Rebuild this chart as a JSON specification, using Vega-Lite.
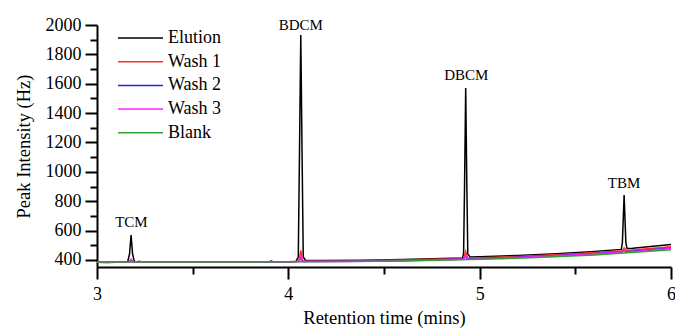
{
  "$schema": "https://vega.github.io/schema/vega-lite/v6.json",
  "width": 574,
  "height": 242,
  "autosize": "none",
  "padding": {"left": 97, "top": 25, "right": 4, "bottom": 61},
  "background": "white",
  "config": {
    "view": {"stroke": null},
    "font": "Liberation Serif",
    "axis": {"labelColor": "black", "titleColor": "black", "domainColor": "black", "tickColor": "black", "grid": false, "titleFontWeight": "normal"}
  },
  "datasets": {
    "curves": [
      {"t": 3.00, "v": 385, "s": "Elution"},
      {"t": 3.05, "v": 383, "s": "Elution"},
      {"t": 3.10, "v": 384, "s": "Elution"},
      {"t": 3.16, "v": 386, "s": "Elution"},
      {"t": 3.170, "v": 440, "s": "Elution"},
      {"t": 3.178, "v": 570, "s": "Elution"},
      {"t": 3.186, "v": 440, "s": "Elution"},
      {"t": 3.196, "v": 387, "s": "Elution"},
      {"t": 3.21, "v": 386, "s": "Elution"},
      {"t": 3.22, "v": 391, "s": "Elution"},
      {"t": 3.23, "v": 386, "s": "Elution"},
      {"t": 3.40, "v": 385, "s": "Elution"},
      {"t": 3.60, "v": 386, "s": "Elution"},
      {"t": 3.80, "v": 387, "s": "Elution"},
      {"t": 3.90, "v": 388, "s": "Elution"},
      {"t": 3.91, "v": 392, "s": "Elution"},
      {"t": 3.92, "v": 388, "s": "Elution"},
      {"t": 4.04, "v": 390, "s": "Elution"},
      {"t": 4.052, "v": 420, "s": "Elution"},
      {"t": 4.058, "v": 1100, "s": "Elution"},
      {"t": 4.065, "v": 1932, "s": "Elution"},
      {"t": 4.072, "v": 1100, "s": "Elution"},
      {"t": 4.078, "v": 420, "s": "Elution"},
      {"t": 4.09, "v": 398, "s": "Elution"},
      {"t": 4.20, "v": 396, "s": "Elution"},
      {"t": 4.40, "v": 398, "s": "Elution"},
      {"t": 4.60, "v": 403, "s": "Elution"},
      {"t": 4.80, "v": 410, "s": "Elution"},
      {"t": 4.91, "v": 414, "s": "Elution"},
      {"t": 4.916, "v": 440, "s": "Elution"},
      {"t": 4.921, "v": 900, "s": "Elution"},
      {"t": 4.927, "v": 1571, "s": "Elution"},
      {"t": 4.933, "v": 900, "s": "Elution"},
      {"t": 4.938, "v": 440, "s": "Elution"},
      {"t": 4.95, "v": 420, "s": "Elution"},
      {"t": 5.00, "v": 422, "s": "Elution"},
      {"t": 5.20, "v": 430, "s": "Elution"},
      {"t": 5.40, "v": 442, "s": "Elution"},
      {"t": 5.60, "v": 458, "s": "Elution"},
      {"t": 5.74, "v": 472, "s": "Elution"},
      {"t": 5.746, "v": 520, "s": "Elution"},
      {"t": 5.755, "v": 842, "s": "Elution"},
      {"t": 5.764, "v": 520, "s": "Elution"},
      {"t": 5.77, "v": 478, "s": "Elution"},
      {"t": 5.80, "v": 480, "s": "Elution"},
      {"t": 6.00, "v": 505, "s": "Elution"},

      {"t": 3.00, "v": 385, "s": "Wash 1"},
      {"t": 3.168, "v": 386, "s": "Wash 1"},
      {"t": 3.178, "v": 404, "s": "Wash 1"},
      {"t": 3.188, "v": 386, "s": "Wash 1"},
      {"t": 3.60, "v": 386, "s": "Wash 1"},
      {"t": 4.00, "v": 388, "s": "Wash 1"},
      {"t": 4.055, "v": 392, "s": "Wash 1"},
      {"t": 4.065, "v": 466, "s": "Wash 1"},
      {"t": 4.075, "v": 392, "s": "Wash 1"},
      {"t": 4.30, "v": 393, "s": "Wash 1"},
      {"t": 4.60, "v": 399, "s": "Wash 1"},
      {"t": 4.917, "v": 410, "s": "Wash 1"},
      {"t": 4.927, "v": 458, "s": "Wash 1"},
      {"t": 4.937, "v": 411, "s": "Wash 1"},
      {"t": 5.20, "v": 424, "s": "Wash 1"},
      {"t": 5.50, "v": 443, "s": "Wash 1"},
      {"t": 5.745, "v": 462, "s": "Wash 1"},
      {"t": 5.755, "v": 482, "s": "Wash 1"},
      {"t": 5.765, "v": 464, "s": "Wash 1"},
      {"t": 6.00, "v": 490, "s": "Wash 1"},

      {"t": 3.00, "v": 384, "s": "Wash 2"},
      {"t": 3.168, "v": 385, "s": "Wash 2"},
      {"t": 3.178, "v": 396, "s": "Wash 2"},
      {"t": 3.188, "v": 385, "s": "Wash 2"},
      {"t": 3.60, "v": 385, "s": "Wash 2"},
      {"t": 4.00, "v": 387, "s": "Wash 2"},
      {"t": 4.055, "v": 390, "s": "Wash 2"},
      {"t": 4.065, "v": 414, "s": "Wash 2"},
      {"t": 4.075, "v": 390, "s": "Wash 2"},
      {"t": 4.30, "v": 391, "s": "Wash 2"},
      {"t": 4.60, "v": 396, "s": "Wash 2"},
      {"t": 4.917, "v": 406, "s": "Wash 2"},
      {"t": 4.927, "v": 424, "s": "Wash 2"},
      {"t": 4.937, "v": 407, "s": "Wash 2"},
      {"t": 5.20, "v": 418, "s": "Wash 2"},
      {"t": 5.50, "v": 436, "s": "Wash 2"},
      {"t": 5.745, "v": 455, "s": "Wash 2"},
      {"t": 5.755, "v": 465, "s": "Wash 2"},
      {"t": 5.765, "v": 456, "s": "Wash 2"},
      {"t": 6.00, "v": 482, "s": "Wash 2"},

      {"t": 3.00, "v": 384, "s": "Wash 3"},
      {"t": 3.168, "v": 385, "s": "Wash 3"},
      {"t": 3.178, "v": 402, "s": "Wash 3"},
      {"t": 3.188, "v": 385, "s": "Wash 3"},
      {"t": 3.60, "v": 385, "s": "Wash 3"},
      {"t": 4.00, "v": 387, "s": "Wash 3"},
      {"t": 4.055, "v": 390, "s": "Wash 3"},
      {"t": 4.065, "v": 422, "s": "Wash 3"},
      {"t": 4.075, "v": 390, "s": "Wash 3"},
      {"t": 4.30, "v": 390, "s": "Wash 3"},
      {"t": 4.60, "v": 394, "s": "Wash 3"},
      {"t": 4.917, "v": 404, "s": "Wash 3"},
      {"t": 4.927, "v": 432, "s": "Wash 3"},
      {"t": 4.937, "v": 405, "s": "Wash 3"},
      {"t": 5.20, "v": 416, "s": "Wash 3"},
      {"t": 5.50, "v": 433, "s": "Wash 3"},
      {"t": 5.745, "v": 452, "s": "Wash 3"},
      {"t": 5.755, "v": 466, "s": "Wash 3"},
      {"t": 5.765, "v": 453, "s": "Wash 3"},
      {"t": 6.00, "v": 478, "s": "Wash 3"},

      {"t": 3.00, "v": 386, "s": "Blank"},
      {"t": 3.30, "v": 386, "s": "Blank"},
      {"t": 3.60, "v": 386, "s": "Blank"},
      {"t": 4.00, "v": 387, "s": "Blank"},
      {"t": 4.30, "v": 389, "s": "Blank"},
      {"t": 4.60, "v": 393, "s": "Blank"},
      {"t": 5.00, "v": 404, "s": "Blank"},
      {"t": 5.30, "v": 416, "s": "Blank"},
      {"t": 5.60, "v": 434, "s": "Blank"},
      {"t": 6.00, "v": 470, "s": "Blank"}
    ],
    "labels": [
      {"t": 3.18, "v": 659, "name": "TCM"},
      {"t": 4.065, "v": 2000, "name": "BDCM"},
      {"t": 4.93, "v": 1659, "name": "DBCM"},
      {"t": 5.755, "v": 924, "name": "TBM"}
    ]
  },
  "resolve": {"axis": {"x": "independent", "y": "independent"}},
  "layer": [
    {
      "data": {"name": "curves"},
      "mark": {"type": "line", "strokeWidth": 1.5, "clip": true},
      "encoding": {
        "x": {"field": "t", "type": "quantitative",
          "scale": {"domain": [3, 6], "nice": false, "zero": false},
          "axis": {"values": [3, 4, 5, 6], "format": "d", "title": "Retention time (mins)", "labelFont": "Liberation Serif", "titleFont": "Liberation Serif", "labelFontSize": 18, "titleFontSize": 18.5, "tickSize": 12, "tickWidth": 2, "domainWidth": 2, "labelPadding": 6, "titlePadding": 5, "labelFlush": false}},
        "y": {"field": "v", "type": "quantitative",
          "scale": {"domain": [352, 2000], "nice": false, "zero": false},
          "axis": {"values": [400, 600, 800, 1000, 1200, 1400, 1600, 1800, 2000], "format": "d", "title": "Peak Intensity (Hz)", "labelFont": "Liberation Serif", "titleFont": "Liberation Serif", "labelFontSize": 18, "titleFontSize": 18.5, "tickSize": 12, "tickWidth": 2, "domainWidth": 2, "labelPadding": 4, "titlePadding": 12, "labelFlush": false}},
        "color": {"field": "s", "type": "nominal",
          "scale": {"domain": ["Elution", "Wash 1", "Wash 2", "Wash 3", "Blank"], "range": ["#000000", "#ff3030", "#2020ff", "#ff20ff", "#30a030"]},
          "legend": {"title": null, "orient": "none", "legendX": 20, "legendY": 3, "symbolType": "stroke", "symbolSize": 2025, "symbolStrokeWidth": 1.5, "labelFont": "Liberation Serif", "labelFontSize": 18, "labelColor": "black", "clipHeight": 20, "rowPadding": 3.7, "labelOffset": 4}},
        "order": {"field": "t", "type": "quantitative"}
      }
    },
    {
      "data": {"name": "labels"},
      "mark": {"type": "text", "fontSize": 15, "font": "Liberation Serif", "color": "black", "baseline": "middle", "align": "center"},
      "encoding": {
        "x": {"field": "t", "type": "quantitative",
          "axis": {"orient": "bottom", "values": [3.5, 4.5, 5.5], "labels": false, "domain": false, "title": null, "tickSize": 7, "tickWidth": 2}},
        "y": {"field": "v", "type": "quantitative",
          "axis": {"orient": "left", "values": [500, 700, 900, 1100, 1300, 1500, 1700, 1900], "labels": false, "domain": false, "title": null, "tickSize": 7, "tickWidth": 2}},
        "text": {"field": "name", "type": "nominal"}
      }
    }
  ]
}
